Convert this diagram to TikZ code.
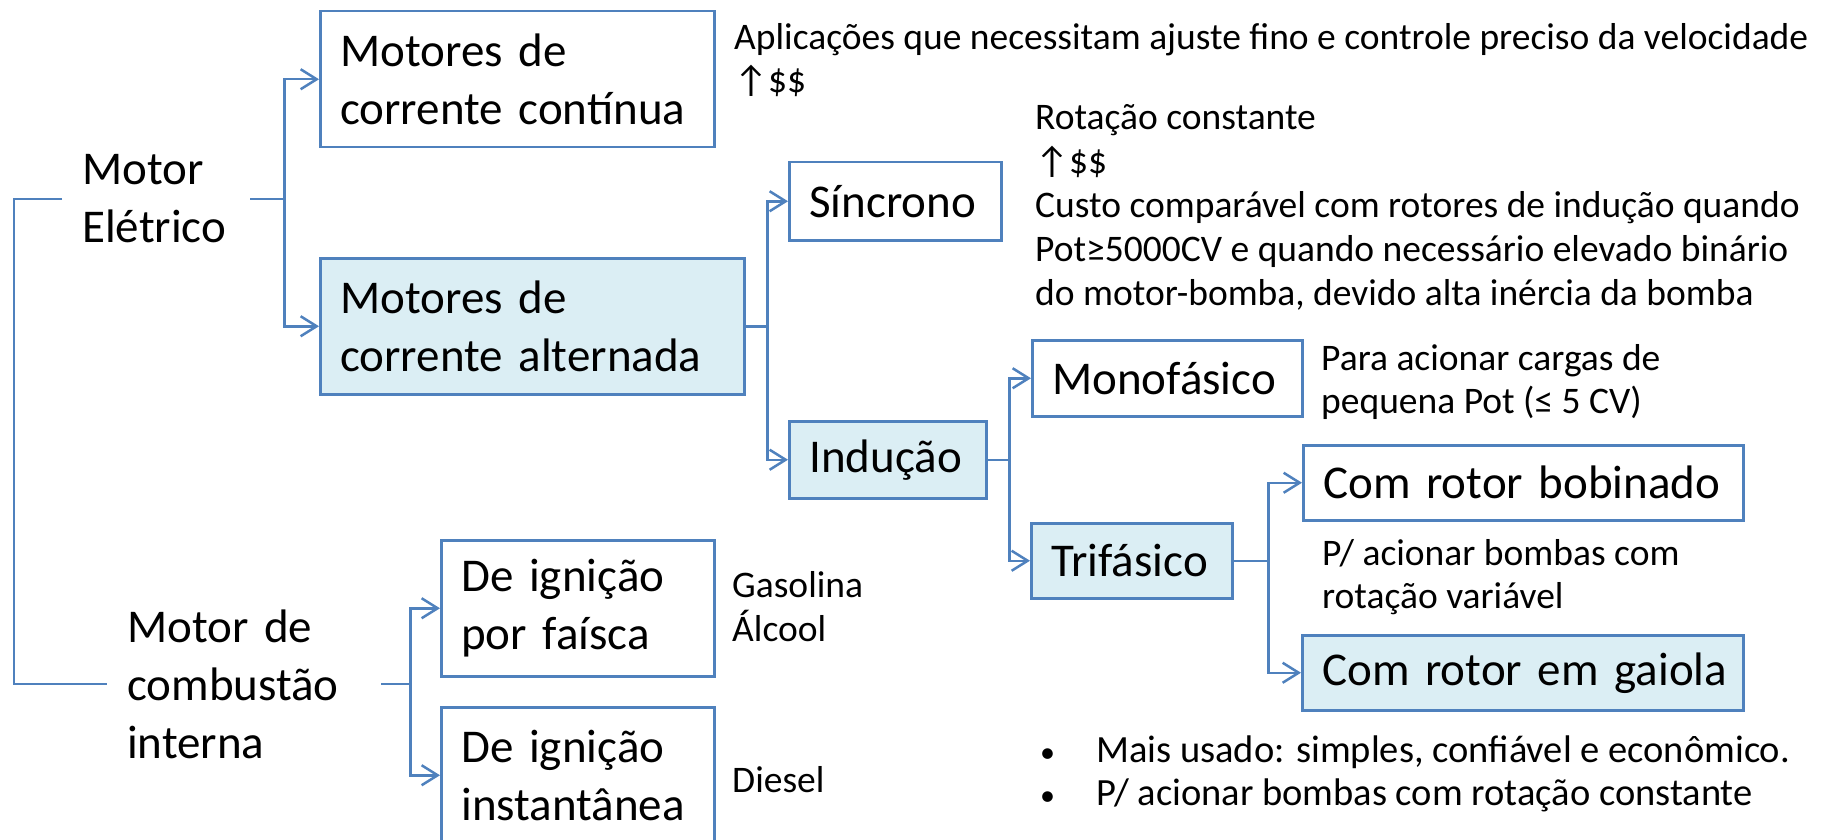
\documentclass[tikz,border=0pt]{standalone}
\usepackage{fontspec}
\setmainfont{Carlito}
\usetikzlibrary{arrows.meta}
\definecolor{bl}{HTML}{4F81BD}
\definecolor{lb}{HTML}{DBEEF4}
\newcommand\bigfont{\fontsize{47}{58}\selectfont}
\newcommand\smallfont{\fontsize{37.5}{43}\selectfont}
\newcommand\upar{↑}
\begin{document}
\begin{tikzpicture}[x=1pt,y=-1pt,
  box/.style={draw=bl, line width=2.5pt, font=\bigfont, align=left, inner xsep=20pt, inner ysep=0pt, anchor=north west},
  filled/.style={fill=lb},
  lbl/.style={font=\bigfont, align=left, inner xsep=20pt, inner ysep=0pt, anchor=west},
  note/.style={font=\smallfont, inner sep=0pt, anchor=base west},
  conn/.style={draw=bl, line width=2.5pt},
  arr/.style={conn, -{Straight Barb[length=16pt,width=20pt]}}]
\useasboundingbox (0,0) rectangle (1821,840);
\clip (0,0) rectangle (1821,840);

% left labels
\node[lbl, text width=148pt] (elec) at (62,199) {Motor\\Elétrico};
\node[lbl, text width=234pt] (comb) at (107,684) {Motor de\\combustão\\interna};
\coordinate (root) at (14,440);
\draw[conn] (elec.west) -| (root) |- (comb.west);

% boxes
\node[box, text width=354pt, minimum height=136pt] (b1) at (319,10) {Motores de\\\mbox{corrente contínua}};
\node[box, filled, text width=384pt, minimum height=136pt] (b2) at (319,257) {Motores de\\\mbox{corrente alternada}};
\node[box, text width=172pt, minimum height=78pt] (sinc) at (788,161) {Síncrono};
\node[box, filled, text width=157pt, minimum height=77pt] (ind) at (788,420) {Indução};
\node[box, text width=230pt, minimum height=76pt] (mono) at (1031,339) {Monofásico};
\node[box, filled, text width=161pt, minimum height=75pt] (trif) at (1030,522) {Trifásico};
\node[box, text width=400pt, minimum height=75pt] (bob) at (1302,444) {\mbox{Com rotor bobinado}};
\node[box, filled, text width=401pt, minimum height=75pt] (gai) at (1301,634) {\mbox{Com rotor em gaiola}};
\node[box, text width=233pt, minimum height=136pt] (fai) at (440,539) {\mbox{De ignição}\\\mbox{por faísca}};
\node[box, text width=233pt, minimum height=136pt] (ins) at (440,706) {\mbox{De ignição}\\\mbox{instantânea}};

% connectors
\draw[conn] (elec.east) -- ++(34,0) coordinate (fe);
\draw[arr] (fe) |- (b1.west);
\draw[arr] (fe) |- (b2.west);
\draw[conn] (b2.east) -- ++(22,0) coordinate (f2);
\draw[arr] (f2) |- (sinc.west);
\draw[arr] (f2) |- (ind.west);
\draw[conn] (ind.east) -- ++(22,0) coordinate (fi);
\draw[arr] (fi) |- (mono.west);
\draw[arr] (fi) |- (trif.west);
\draw[conn] (trif.east) -- ++(35,0) coordinate (ft);
\draw[arr] (ft) |- (bob.west);
\draw[arr] (ft) |- (gai.west);
\draw[conn] (comb.east) -- ++(29,0) coordinate (fc);
\draw[arr] (fc) |- (fai.west);
\draw[arr] (fc) |- (ins.west);

% notes
\node[note] (n1) at (734,50) {\begin{tabular}[t]{@{}l@{}}Aplicações que necessitam ajuste fino e controle preciso da velocidade\\ \upar\$\$\end{tabular}};
\node[note, font=\fontsize{37.5}{44}\selectfont] (n2) at (1035,130) {\begin{tabular}[t]{@{}l@{}}Rotação constante\\ \upar\$\$\\ Custo comparável com rotores de indução quando\\ Pot≥5000CV e quando necessário elevado binário\\ do motor-bomba, devido alta inércia da bomba\end{tabular}};
\node[note] (n3) at (1321,370) {\begin{tabular}[t]{@{}l@{}}Para acionar cargas de\\ pequena Pot (≤ 5 CV)\end{tabular}};
\node[note] (n4) at (1322,565) {\begin{tabular}[t]{@{}l@{}}P/ acionar bombas com\\ rotação variável\end{tabular}};
\node[note] (gas) at (732,597) {\begin{tabular}[t]{@{}l@{}}Gasolina\\ Álcool\end{tabular}};
\node[note] (dsl) at (732,792) {Diesel};
\node[note, font=\fontsize{38.5}{43}\selectfont] (bul) at (1040,762) {\begin{tabular}[t]{@{}p{56pt}@{}l@{}}\fontsize{30}{43}\selectfont•&Mais usado: simples, confiável e econômico.\\ \fontsize{30}{43}\selectfont•&P/ acionar bombas com rotação constante\end{tabular}};
\end{tikzpicture}
\end{document}
